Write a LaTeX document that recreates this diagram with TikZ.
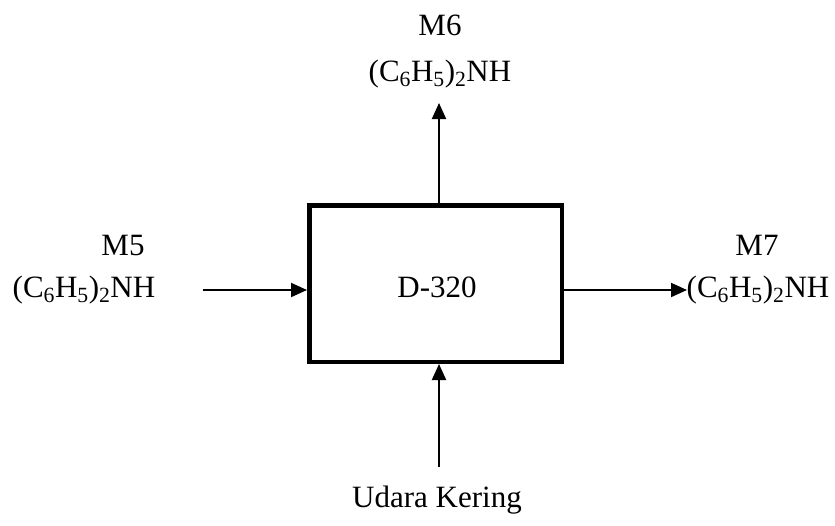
\documentclass[tikz,border=0pt]{standalone}
\usepackage{fontspec}
\setmainfont{Liberation Serif}
\usetikzlibrary{arrows.meta}
\tikzset{
  lbl/.style={anchor=base, inner sep=0pt, font=\fontsize{31}{37}\selectfont},
  unit/.style={draw, line width=4.5pt, minimum width=252.5pt, minimum height=156.5pt, inner sep=0pt},
  flow/.style={line width=2pt, -{Triangle[length=16pt,width=14pt]}}
}
\newcommand{\dpa}{(C\textsubscript{6}H\textsubscript{5})\textsubscript{2}NH}
\begin{document}
\begin{tikzpicture}[x=1pt,y=-1pt]
\useasboundingbox (0,0) rectangle (835,525);
\node[unit] (box) at (435.5,283.5) {};
\node[lbl] (d320) at (437,297) {D-320};
\node[lbl] (m6) at (440,35) {M6};
\node[lbl] (m6f) at (440,81) {\dpa};
\node[lbl] (m5) at (123,255) {M5};
\node[lbl] (m5f) at (84,297) {\dpa};
\node[lbl] (m7) at (757,255) {M7};
\node[lbl] (m7f) at (758,297) {\dpa};
\node[lbl] (udara) at (437,507) {Udara Kering};
\coordinate (inL) at (203,290);
\coordinate (outR) at (687,290);
\coordinate (outT) at (439,103);
\coordinate (inB) at (439,467);
\draw[flow] (inL) -- (inL -| box.west);
\draw[flow] (outR -| box.east) -- (outR);
\draw[flow] (outT |- box.north) -- (outT);
\draw[flow] (inB) -- (inB |- box.south);
\end{tikzpicture}
\end{document}
